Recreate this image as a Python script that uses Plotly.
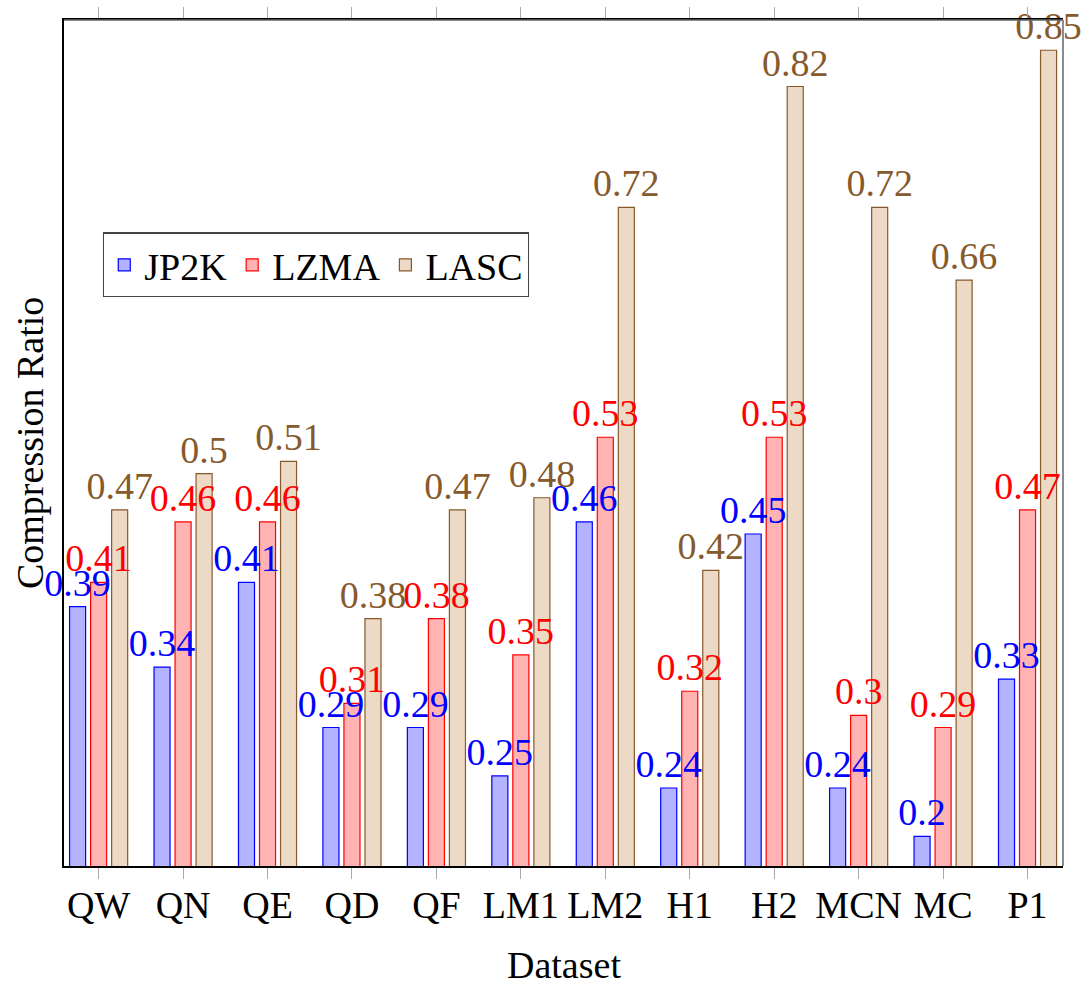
import plotly.graph_objects as go

categories = ["QW", "QN", "QE", "QD", "QF", "LM1", "LM2", "H1", "H2", "MCN", "MC", "P1"]
jp2k = [0.39, 0.34, 0.41, 0.29, 0.29, 0.25, 0.46, 0.24, 0.45, 0.24, 0.20, 0.33]
lzma = [0.41, 0.46, 0.46, 0.31, 0.38, 0.35, 0.53, 0.32, 0.53, 0.30, 0.29, 0.47]
lasc = [0.47, 0.50, 0.51, 0.38, 0.47, 0.48, 0.72, 0.42, 0.82, 0.72, 0.66, 0.85]

series = [
    ("JP2K", jp2k, "#b3b3ff", "#0000ff", "#0000ff"),
    ("LZMA", lzma, "#ffb3b3", "#ff0000", "#ff0000"),
    ("LASC", lasc, "#ecd9c6", "#865a2d", "#865a2d"),
]

FONT = "Liberation Serif, Times New Roman, serif"
FS = 38

fig = go.Figure()
# bars first
for i, (name, vals, fill, line, tc) in enumerate(series):
    fig.add_trace(go.Bar(
        name=name, x=categories, y=vals, offsetgroup=str(i),
        marker=dict(color=fill, line=dict(color=line, width=1.2)),
        cliponaxis=False,
    ))
# value labels drawn on top of all bars
for i, (name, vals, fill, line, tc) in enumerate(series):
    fig.add_trace(go.Bar(
        name=name + " labels", x=categories, y=vals, offsetgroup=str(i),
        marker=dict(color="rgba(0,0,0,0)", line=dict(width=0)),
        text=[f"{v:g}" for v in vals],
        textposition="outside",
        textfont=dict(color=tc, size=FS, family=FONT),
        constraintext="none",
        cliponaxis=False,
        showlegend=False, hoverinfo="skip",
    ))

fig.update_layout(
    barmode="group",
    bargap=0.253,
    bargroupgap=0.237,
    width=1091, height=985,
    margin=dict(l=64, r=28, t=20, b=119, autoexpand=False),
    plot_bgcolor="white", paper_bgcolor="white",
    font=dict(family=FONT, size=FS, color="black"),
    showlegend=True,
    legend=dict(
        orientation="h", x=0.039, y=0.749, xanchor="left", yanchor="top",
        bgcolor="white", bordercolor="#444", borderwidth=1.3,
        font=dict(size=FS, family=FONT),
    ),
    xaxis=dict(
        automargin=False,
        range=[-0.41, 11.42],
        showline=True, linecolor="black", linewidth=1.5, mirror="ticks",
        ticks="outside", ticklen=11, tickcolor="#aaaaaa", tickwidth=1.2,
        ticklabelstandoff=-6,
        showgrid=False, zeroline=False,
        tickfont=dict(size=FS),
    ),
    yaxis=dict(
        automargin=False,
        range=[0.1755, 0.875],
        showline=True, linecolor="black", linewidth=1.5,
        showticklabels=False, ticks="", showgrid=False, zeroline=False,
    ),
    annotations=[
        dict(text="Dataset", xref="paper", yref="paper", x=0.5, y=-0.117,
             xanchor="center", yanchor="middle", showarrow=False,
             font=dict(size=FS, family=FONT)),
        dict(text="Compression Ratio", xref="paper", yref="paper", x=-0.034, y=0.5,
             xanchor="center", yanchor="middle", showarrow=False, textangle=-90,
             font=dict(size=FS, family=FONT)),
    ],
    shapes=[
        dict(type="line", xref="paper", yref="paper", x0=0, x1=1, y0=1, y1=1,
             line=dict(color="#666666", width=1.5), layer="above"),
        dict(type="line", xref="paper", yref="paper", x0=1, x1=1, y0=0, y1=1,
             line=dict(color="#666666", width=1.5), layer="above"),
    ],
)

fig.write_html(
    "out.html",
    config={"displayModeBar": False},
    post_script="document.body.style.margin='0';document.body.style.padding='0';",
)
